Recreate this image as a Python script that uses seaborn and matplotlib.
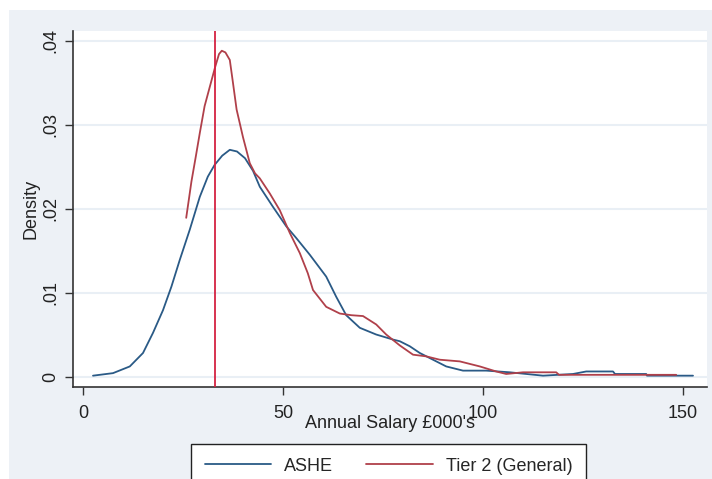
import numpy as np
import pandas as pd
import matplotlib
matplotlib.use("Agg")
import matplotlib.pyplot as plt
from matplotlib.patches import Rectangle
from matplotlib.lines import Line2D
import seaborn as sns

# ---- data ----
ashe_x = [2.5, 7.5, 11.7, 15, 17.5, 20, 22.1, 24.2, 26.7, 29.2, 31.2, 32.9, 34.8, 36.7,
          38.5, 40.5, 42.5, 44.2, 47.5, 50.8, 53.3, 56.7, 60.8, 63.3, 65.8, 69.2, 73.3,
          77.5, 79.2, 81.7, 84.2, 87.5, 90.8, 95, 100.8, 106.7, 115, 122.5, 125.8,
          132.5, 133, 140.8, 141, 152.5]
ashe_y = [0.0001, 0.0004, 0.0012, 0.0028, 0.0052, 0.0079, 0.0107, 0.0139, 0.0175, 0.0214,
          0.0238, 0.0252, 0.0263, 0.0270, 0.0268, 0.0260, 0.0245, 0.0226, 0.0202, 0.0179,
          0.0165, 0.0145, 0.0119, 0.0095, 0.0073, 0.0058, 0.0050, 0.0044, 0.0042, 0.0036,
          0.0028, 0.0020, 0.0012, 0.0007, 0.0007, 0.0005, 0.0001, 0.0003, 0.0006, 0.0006,
          0.0003, 0.0003, 0.0001, 0.0001]

tier2_x = [25.8, 26.5, 27.1, 28.2, 29.2, 30.4, 31.7, 33.0, 34.0, 34.7, 35.6, 36.7, 37.4,
           38.4, 40.0, 41.7, 43.0, 44.2, 46.7, 49.2, 51.7, 54.2, 56.2, 57.5, 60.8, 64.2,
           67.1, 70.0, 73.3, 75.8, 79.2, 82.5, 85.8, 89.2, 94.2, 99.2, 103.3, 105.8, 110,
           118.3, 119, 148.3]
tier2_y = [0.0189, 0.0212, 0.0232, 0.0262, 0.0290, 0.0322, 0.0345, 0.0368, 0.0384, 0.0388,
           0.0386, 0.0377, 0.0353, 0.0318, 0.0285, 0.0254, 0.0242, 0.0236, 0.0218, 0.0198,
           0.0171, 0.0147, 0.0123, 0.0103, 0.0083, 0.0075, 0.0073, 0.0072, 0.0062, 0.0050,
           0.0037, 0.0026, 0.0024, 0.0020, 0.0018, 0.0012, 0.0006, 0.0003, 0.0005, 0.0005,
           0.0002, 0.0002]

threshold = 33
series_names = ["ASHE", "Tier 2 (General)"]
y_ticks = [0, 0.01, 0.02, 0.03, 0.04]
y_ticklabels = ["0", ".01", ".02", ".03", ".04"]
x_ticks = [0, 50, 100, 150]
x_label = "Annual Salary £000's"
y_label = "Density"

df = pd.concat([
    pd.DataFrame({"salary": ashe_x, "density": ashe_y, "series": series_names[0]}),
    pd.DataFrame({"salary": tier2_x, "density": tier2_y, "series": series_names[1]}),
], ignore_index=True)

# ---- style ----
sns.set_theme(style="white")
plt.rcParams["font.family"] = ["Liberation Sans", "DejaVu Sans"]

W, H = 712, 479
bg = "#edf1f6"
blue = "#2a5a86"
red = "#b0404a"
vline_c = "#d42342"
fs = 13

fig = plt.figure(figsize=(W / 100, H / 100), dpi=100, facecolor="white")
fig.patches.append(Rectangle((9 / W, 0), 1 - 9 / W, (H - 10) / H,
                             transform=fig.transFigure, facecolor=bg,
                             edgecolor="none", zorder=-10))
ax = fig.add_axes([73 / W, 1 - 387 / H, (707 - 73) / W, (387 - 31) / H])
ax.set_facecolor("white")

sns.lineplot(data=df, x="salary", y="density", hue="series",
             palette={series_names[0]: blue, series_names[1]: red},
             estimator=None, sort=False, legend=False, lw=1.3, ax=ax)
ax.axvline(threshold, color=vline_c, lw=1.3, zorder=5)

ax.set_xlim(-2.5, 156)
ax.set_ylim(-0.00125, 0.04115)
ax.set_yticks(y_ticks)
ax.set_yticklabels(y_ticklabels)
ax.set_xticks(x_ticks)
ax.yaxis.grid(True, color="#e9eff5", lw=1.5)
ax.xaxis.grid(False)
ax.set_axisbelow(True)

for s in ["top", "right"]:
    ax.spines[s].set_visible(False)
for s in ["left", "bottom"]:
    ax.spines[s].set_color("#333333")
    ax.spines[s].set_linewidth(1.2)

ax.tick_params(axis="both", which="major", length=6, width=1, color="#333333",
               labelsize=fs, labelcolor="#222222", direction="out", left=True, bottom=True)
ax.tick_params(axis="x", pad=7)
ax.tick_params(axis="y", pad=4, labelrotation=90)
for lab in ax.get_yticklabels():
    lab.set_va("center")

ax.set_xlabel(x_label, fontsize=fs, color="#222222", labelpad=-5)
ax.set_ylabel(y_label, fontsize=fs, color="#222222", labelpad=2)

handles = [Line2D([], [], color=blue, lw=1.3), Line2D([], [], color=red, lw=1.3)]
leg = fig.legend(handles, series_names, loc="upper center",
                 bbox_to_anchor=(388.5 / W, 1 - 444 / H), ncol=2, fontsize=fs,
                 frameon=True, fancybox=False, framealpha=1, edgecolor="#222222",
                 facecolor="white", handlelength=3.7, handletextpad=0.72,
                 columnspacing=1.8, borderpad=0.75, borderaxespad=0)
leg.get_frame().set_linewidth(1.0)

fig.savefig("out.png", dpi=100, facecolor=fig.get_facecolor())
